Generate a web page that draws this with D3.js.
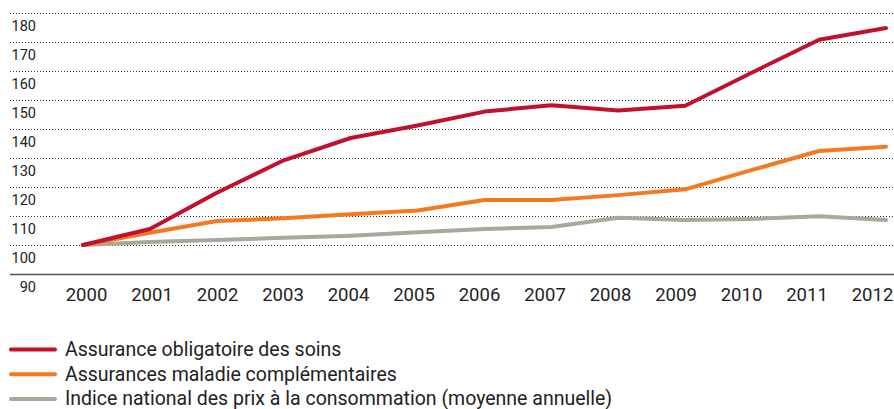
<!DOCTYPE html>
<html>
<head>
<meta charset="utf-8">
<script src="https://cdn.jsdelivr.net/npm/d3@7"></script>
<style>
    body { margin: 0; background: #fff; }
    svg { display: block; font-family: Roboto, "Noto Sans", sans-serif; }
    .y-label { font-size: 14.5px; fill: #222; }
    .legend-text { font-size: 19.5px; fill: #222; }
</style>
</head>
<body>
<div id="chart"></div>
<script>
// Data (index 2000 = 100)
const years = [2000, 2001, 2002, 2003, 2004, 2005, 2006, 2007, 2008, 2009, 2010, 2011, 2012];
const obligatoire = [100, 105.5, 118, 129.2, 136.9, 141.2, 146, 148.2, 146.4, 148, 159.5, 170.8, 174.8];
const complementaires = [100, 104.2, 108.3, 109.2, 110.6, 111.9, 115.5, 115.5, 117.2, 119.2, 125.9, 132.4, 133.9];
const prix = [100, 101, 101.7, 102.5, 103.2, 104.4, 105.5, 106.2, 109.4, 108.6, 109, 109.9, 108.6];
const yTicks = [90, 100, 110, 120, 130, 140, 150, 160, 170, 180];

const seriesNames = [
    "Assurance obligatoire des soins",
    "Assurances maladie complémentaires",
    "Indice national des prix à la consommation (moyenne annuelle)"
];
const seriesColors = ["#c1112f", "#f47920", "#a9a89b"];
const seriesValues = [obligatoire, complementaires, prix];

const width = 894, height = 409;

const svg = d3.select("#chart")
    .append("svg")
    .attr("width", width)
    .attr("height", height);

// Scales
const x = d3.scaleLinear().domain([2000, 2012]).range([83, 886]);
const xLabel = d3.scalePoint().domain(years).range([86, 872]);
const y = d3.scaleLinear().domain([90, 180]).range([274, 13]);

// Dotted gridlines (all ticks except the baseline)
svg.append("g")
    .selectAll("line")
    .data(yTicks.filter(d => d > 90))
    .enter()
    .append("line")
    .attr("x1", 10)
    .attr("x2", width)
    .attr("y1", d => y(d) + 0.5)
    .attr("y2", d => y(d) + 0.5)
    .attr("stroke", "#333")
    .attr("stroke-width", 1)
    .attr("stroke-dasharray", "1,2");

// Solid baseline at 90
svg.append("line")
    .attr("x1", 10)
    .attr("x2", width)
    .attr("y1", y(90) + 0.5)
    .attr("y2", y(90) + 0.5)
    .attr("stroke", "#555")
    .attr("stroke-width", 1.3);

// Y labels sit just below their gridline, right aligned
svg.append("g")
    .selectAll("text")
    .data(yTicks)
    .enter()
    .append("text")
    .attr("class", "y-label")
    .attr("x", 36)
    .attr("text-anchor", "end")
    .attr("y", d => y(d) + 18)
    .text(d => d);

// X axis labels
const xAxis = svg.append("g")
    .attr("transform", `translate(0, ${y(90)})`)
    .call(d3.axisBottom(xLabel).tickSize(0).tickPadding(0).tickFormat(d => d));
xAxis.select(".domain").remove();
xAxis.selectAll("text")
    .attr("dy", null)
    .attr("y", 27)
    .style("font-family", "Roboto, sans-serif")
    .style("font-size", "18.5px")
    .attr("fill", "#222");

// Lines
const line = d3.line()
    .x((d, i) => x(years[i]))
    .y(d => y(d));

// draw grey first so red sits on top
[2, 1, 0].forEach(k => {
    svg.append("path")
        .datum(seriesValues[k])
        .attr("fill", "none")
        .attr("stroke", seriesColors[k])
        .attr("stroke-width", 4)
        .attr("stroke-linejoin", "round")
        .attr("stroke-linecap", "round")
        .attr("d", line);
});

// Legend
const legend = svg.append("g");
seriesNames.forEach((name, i) => {
    let ly = 349.5 + i * 24.7;
    legend.append("line")
        .attr("x1", 11)
        .attr("x2", 55)
        .attr("y1", ly)
        .attr("y2", ly)
        .attr("stroke", seriesColors[i])
        .attr("stroke-width", 4)
        .attr("stroke-linecap", "round");
    legend.append("text")
        .attr("class", "legend-text")
        .attr("x", 65)
        .attr("y", ly + 6.5)
        .text(name);
});
</script>
</body>
</html>
